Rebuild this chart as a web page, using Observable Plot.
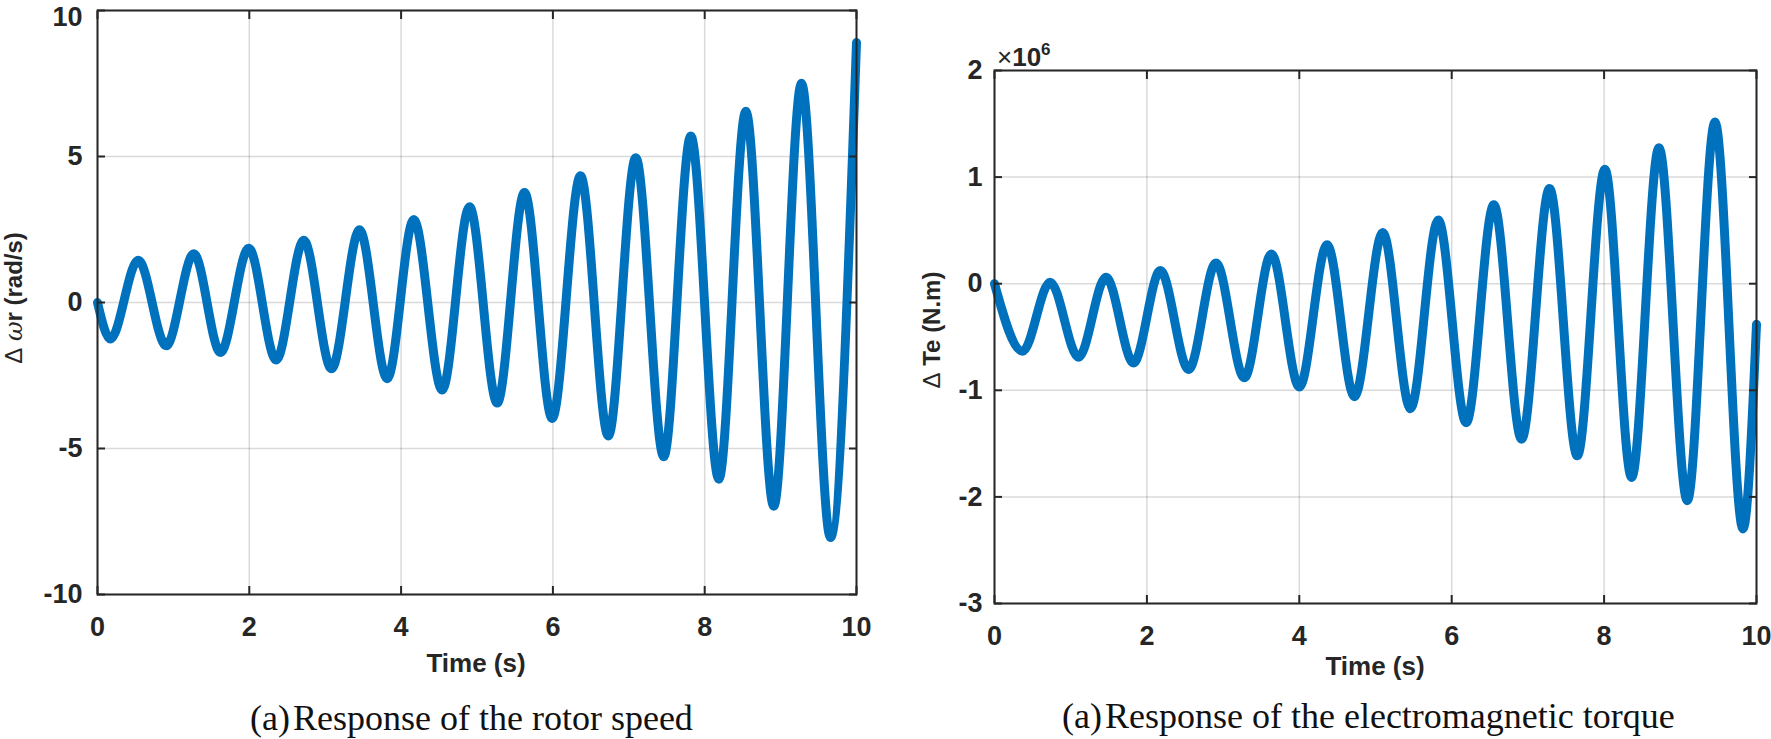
<!DOCTYPE html>
<html>
<head>
<meta charset="utf-8">
<script src="https://cdn.jsdelivr.net/npm/d3@7"></script>
<script src="https://cdn.jsdelivr.net/npm/@observablehq/plot@0.6"></script>
<style>
  html, body { margin: 0; padding: 0; background: #ffffff; }
  #root { position: relative; width: 1771px; height: 739px; overflow: hidden; background: #fff; }
  .panel { position: absolute; top: 0; }
  .txt { position: absolute; white-space: nowrap; line-height: 1; color: #262626; }
  .sans { font-family: "Liberation Sans", Arial, Helvetica, sans-serif; font-weight: bold; }
  .serif { font-family: "Liberation Serif", "Times New Roman", serif; color: #111; }
  .ylab { transform: translate(-50%, -50%) rotate(-90deg); }
</style>
</head>
<body>
<div id="root"></div>
<script>
// ---------------- data ----------------
// Time axis ticks (s)
const timeTicks = [0, 2, 4, 6, 8, 10];

// (a) Rotor speed deviation Δωr (rad/s): extrema of the growing oscillation
const speedTime  = [0, 0.17, 0.536, 0.905, 1.269, 1.62, 1.993, 2.354, 2.718, 3.083, 3.452, 3.817, 4.167, 4.541, 4.901, 5.266, 5.626, 5.99, 6.364, 6.73, 7.092, 7.46, 7.817, 8.186, 8.542, 8.91, 9.275, 9.657, 10];
const speedValue = [0, -1.25, 1.45, -1.48, 1.67, -1.71, 1.86, -1.97, 2.13, -2.27, 2.49, -2.61, 2.84, -3.0, 3.28, -3.44, 3.77, -3.97, 4.34, -4.57, 4.96, -5.28, 5.70, -6.05, 6.55, -6.98, 7.51, -8.05, 8.9];
const speedTicks = [-10, -5, 0, 5, 10];

// (b) Electromagnetic torque deviation ΔTe (N.m)
const torqueTime  = [0, 0.368, 0.731, 1.103, 1.463, 1.825, 2.176, 2.548, 2.907, 3.279, 3.634, 4.001, 4.365, 4.724, 5.096, 5.459, 5.823, 6.19, 6.553, 6.917, 7.284, 7.648, 8.01, 8.361, 8.72, 9.092, 9.455, 9.823, 10];
const torqueValue = [0, -634000, 14000, -690000, 61000, -743000, 123000, -805000, 195000, -883000, 279000, -970000, 365000, -1060000, 481000, -1173000, 597000, -1304000, 740000, -1459000, 893000, -1615000, 1074000, -1818000, 1276000, -2035000, 1516000, -2300000, -380000];
const torqueTicks = [-3e6, -2e6, -1e6, 0, 1e6, 2e6];

// ---------------- styles ----------------
const lineColor = "#0072BD";
const axisColor = "#262626";
const tickFont = 27;

function panel({t, v, yTicks, yFormat, width, height, mL, mR, mT, mB, yPad, topLabelDy}) {
  const rows = t.map((d, i) => ({t: d, v: v[i]}));
  const yDomain = [yTicks[0], yTicks[yTicks.length - 1]];
  const yLabelStyle = {label: null, tickSize: 0, tickPadding: yPad - 8, tickFormat: yFormat,
    fontSize: tickFont, fontWeight: "bold", fill: axisColor};
  return Plot.plot({
    width, height,
    marginLeft: mL, marginRight: mR, marginTop: mT, marginBottom: mB,
    style: {background: "transparent", color: axisColor, fontFamily: "'Liberation Sans', Arial, sans-serif", overflow: "visible"},
    x: {domain: [0, 10]},
    y: {domain: yDomain},
    marks: [
      Plot.gridX(timeTicks, {stroke: axisColor, strokeOpacity: 0.17, strokeWidth: 1.5}),
      Plot.gridY(yTicks, {stroke: axisColor, strokeOpacity: 0.17, strokeWidth: 1.5}),
      Plot.line(rows, {x: "t", y: "v", stroke: lineColor, strokeWidth: 9, curve: "monotone-x", strokeLinejoin: "round"}),
      Plot.frame({stroke: axisColor, strokeWidth: 2}),
      Plot.axisX(timeTicks, {anchor: "bottom", label: null, tickSize: -8, tickPadding: 30, strokeWidth: 2,
        fontSize: tickFont, fontWeight: "bold", fill: axisColor}),
      Plot.axisX(timeTicks, {anchor: "top", label: null, tickSize: -8, tickFormat: () => "", strokeWidth: 2}),
      // inward ticks, left and right
      Plot.axisY(yTicks, {anchor: "left", label: null, tickSize: -8, tickFormat: () => "", strokeWidth: 2}),
      Plot.axisY(yTicks, {anchor: "right", label: null, tickSize: -8, tickFormat: () => "", strokeWidth: 2}),
      // tick labels (topmost one nudged so it stays inside the picture)
      Plot.axisY(yTicks.slice(0, -1), {anchor: "left", ...yLabelStyle}),
      Plot.axisY(yTicks.slice(-1), {anchor: "left", ...yLabelStyle, dy: topLabelDy})
    ]
  });
}

const root = document.getElementById("root");

const left = panel({t: speedTime, v: speedValue, yTicks: speedTicks, yFormat: d => String(d),
  width: 880, height: 700, mL: 97, mR: 24, mT: 10, mB: 106, yPad: 23, topLabelDy: 7});
left.classList.add("panel");
left.style.left = "0px";
root.appendChild(left);

const right = panel({t: torqueTime, v: torqueValue, yTicks: torqueTicks, yFormat: d => String(Math.round(d / 1e6)),
  width: 891, height: 700, mL: 114, mR: 15, mT: 70, mB: 97, yPad: 20, topLabelDy: 0});
right.classList.add("panel");
right.style.left = "880px";
root.appendChild(right);

// ---------------- text (titles, labels, captions) ----------------
function addText(html, cls, css) {
  const d = document.createElement("div");
  d.className = "txt " + cls;
  d.innerHTML = html;
  Object.assign(d.style, css);
  root.appendChild(d);
  return d;
}
// x-axis titles
addText("Time (s)", "sans", {left: "276px", width: "400px", textAlign: "center", top: "650px", fontSize: "26px"});
addText("Time (s)", "sans", {left: "1175px", width: "400px", textAlign: "center", top: "653px", fontSize: "26px"});
// y-axis titles (rotated)
addText('<span style="font-weight:normal">Δ</span> <i style="font-family:\'DejaVu Serif\',serif;font-weight:normal">ω</i>r (rad/s)', "sans ylab",
  {left: "14px", top: "298px", fontSize: "24px"});
addText('<span style="font-weight:normal">Δ</span> Te (N.m)', "sans ylab",
  {left: "932px", top: "330px", fontSize: "24px"});
// exponent label
addText('<span style="font-weight:normal">×</span>10<sup style="font-size:17px;vertical-align:11px">6</sup>', "sans",
  {left: "997px", top: "41px", fontSize: "26px"});
// captions
addText("(a)&#8202;Response of the rotor speed", "serif", {left: "250px", top: "700px", fontSize: "36px"});
addText("(a)&#8202;Response of the electromagnetic torque", "serif", {left: "1062px", top: "698px", fontSize: "36px"});
</script>
</body>
</html>
